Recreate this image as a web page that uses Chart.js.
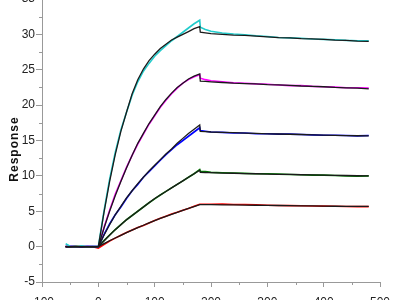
<!DOCTYPE html>
<html>
<head>
<meta charset="utf-8">
<script src="https://cdn.jsdelivr.net/npm/chart.js@4.4.1/dist/chart.umd.min.js"></script>
<style>
html,body{margin:0;padding:0;background:#fff;}
#wrap{position:relative;width:400px;height:300px;overflow:hidden;}
#inner{position:absolute;left:0;top:-10px;width:400px;height:310px;}
</style>
</head>
<body>
<div id="wrap"><div id="inner"><canvas id="c"></canvas></div></div>
<script>
// Time axis (s), shared by all series
const times = [-58,-50,-40,-30,-20,-10,0,
  10,20,30,40,50,60,70,80,90,100,110,120,130,140,150,160,170,180,
  181,190,200,220,240,260,280,300,320,340,360,380,400,420,440,460,480];

// Measured responses (coloured)
const cyanData = [0.4,0.05,-0.05,0.1,0.0,0.05,0,
  5.0,9.5,13.3,16.5,19.0,21.4,23.3,24.8,25.9,26.9,27.7,28.4,29.1,29.7,30.3,30.9,31.5,32.0,
  31.0,30.7,30.45,30.2,30.05,29.95,29.8,29.7,29.55,29.5,29.45,29.35,29.3,29.25,29.15,29.1,29.1];
const magentaData = [0,0.05,-0.05,0.05,0,0.05,0,
  2.7,5.1,7.4,9.3,11.2,12.9,14.5,15.9,17.3,18.5,19.7,20.7,21.6,22.4,23.1,23.6,24.0,24.3,
  23.8,23.6,23.45,23.3,23.15,23.1,23.0,22.95,22.85,22.75,22.75,22.65,22.6,22.55,22.45,22.45,22.4];
const blueData = [0,0.05,0,-0.05,0.05,0,0,
  1.7,3.2,4.5,5.6,6.8,7.9,8.8,9.8,10.6,11.4,12.2,13.0,13.7,14.4,15.0,15.6,16.2,16.8,
  16.4,16.3,16.2,16.15,16.05,16.05,15.95,15.95,15.9,15.9,15.85,15.8,15.75,15.75,15.7,15.65,15.7];
const greenData = [0,0,0.05,0,-0.05,0,0,
  0.85,1.65,2.4,3.1,3.8,4.4,5.0,5.6,6.2,6.75,7.3,7.8,8.3,8.8,9.3,9.8,10.3,10.9,
  10.65,10.6,10.5,10.45,10.4,10.35,10.3,10.3,10.25,10.2,10.15,10.1,10.1,10.05,10.0,9.95,10.0];
const redData = [0,0,0,0.05,0,0,-0.2,
  0.3,0.8,1.2,1.6,2.0,2.35,2.7,3.0,3.35,3.7,4.0,4.3,4.6,4.85,5.15,5.4,5.7,6.0,
  6.0,6.0,5.98,6.0,5.95,5.95,5.9,5.85,5.82,5.8,5.78,5.75,5.72,5.7,5.68,5.65,5.65];

// Fitted curves (black)
const cyanFit = [0,0,0,0,0,0,0,
  4.8,9.2,13.0,16.3,19.0,21.6,23.6,25.1,26.3,27.2,28.0,28.6,29.2,29.6,30.0,30.4,30.8,31.1,
  30.3,30.2,30.1,30.0,29.9,29.85,29.75,29.65,29.55,29.5,29.4,29.35,29.3,29.2,29.15,29.05,29.0];
const magentaFit = [0,0,0,0,0,0,0,
  2.6,5.0,7.2,9.2,11.1,12.9,14.6,16.0,17.4,18.6,19.8,20.8,21.7,22.5,23.1,23.7,24.1,24.4,
  23.4,23.35,23.3,23.2,23.1,23.05,23.0,22.9,22.85,22.8,22.7,22.65,22.6,22.5,22.45,22.4,22.3];
const blueFit = [0,0,0,0,0,0,0,
  1.6,3.1,4.5,5.7,6.9,7.9,8.9,9.8,10.7,11.5,12.3,13.1,13.8,14.6,15.3,16.0,16.6,17.2,
  16.3,16.25,16.2,16.15,16.1,16.05,16.0,15.95,15.92,15.88,15.85,15.8,15.77,15.73,15.7,15.67,15.65];
const greenFit = [0,0,0,0,0,0,0,
  0.8,1.6,2.4,3.1,3.8,4.4,5.0,5.6,6.2,6.8,7.3,7.8,8.3,8.8,9.3,9.8,10.3,10.8,
  10.5,10.48,10.45,10.4,10.37,10.33,10.3,10.25,10.22,10.2,10.16,10.13,10.1,10.07,10.05,10.02,10.0];
const redFit = [0,0,0,0,0,0,0,
  0.42,0.83,1.22,1.6,1.97,2.33,2.68,3.02,3.35,3.67,3.98,4.28,4.57,4.85,5.13,5.4,5.67,5.95,
  5.95,5.94,5.93,5.91,5.89,5.87,5.85,5.83,5.81,5.79,5.77,5.75,5.73,5.71,5.7,5.69,5.68];

const xTicks = [-100,0,100,200,300,400,500];
const yTicks = [-5,0,5,10,15,20,25,30,35];
const yTitle = 'Response';

function pts(vals){ return times.map((t,i)=>({x:t,y:vals[i]})); }
function ds(vals,color,order,w){
  return {data:pts(vals),borderColor:color,borderWidth:w,pointRadius:0,showLine:true,fill:false,tension:0,order:order};
}

const minorTicks = {
  id:'minorTicks',
  afterDraw(chart){
    const ctx=chart.ctx, xs=chart.scales.x, ys=chart.scales.y;
    ctx.save();
    ctx.strokeStyle='#999'; ctx.lineWidth=1;
    for(let v=-50; v<500; v+=100){
      const px=Math.round(xs.getPixelForValue(v))+0.5;
      ctx.beginPath(); ctx.moveTo(px,xs.top); ctx.lineTo(px,xs.top+3); ctx.stroke();
    }
    for(let v=-2.5; v<35; v+=5){
      const py=Math.round(ys.getPixelForValue(v))+0.5;
      ctx.beginPath(); ctx.moveTo(ys.right,py); ctx.lineTo(ys.right-3,py); ctx.stroke();
    }
    ctx.fillStyle='#111';
    ctx.font='bold 12px "Liberation Sans", Arial, sans-serif';
    try{ ctx.letterSpacing='1px'; }catch(e){}
    ctx.textAlign='center'; ctx.textBaseline='middle';
    ctx.translate(15,159); ctx.rotate(-Math.PI/2);
    ctx.fillText(yTitle,0,0);
    ctx.restore();
  }
};

const tickFont = {family:'"Liberation Sans Narrow", "Liberation Sans", Arial, sans-serif', size:12};

new Chart(document.getElementById('c'),{
  type:'scatter',
  data:{datasets:[
    ds(cyanFit,'#1a1a1a',0,1.3), ds(magentaFit,'#1a1a1a',0,1.3), ds(blueFit,'#1a1a1a',0,1.3),
    ds(greenFit,'#1a1a1a',0,1.3), ds(redFit,'#1a1a1a',0,1.3),
    ds(cyanData,'#22cccc',1,1.6), ds(magentaData,'#ff00ff',1,1.6), ds(blueData,'#0000ff',1,1.6),
    ds(greenData,'#008000',1,1.6), ds(redData,'#ff0000',1,1.6)
  ]},
  options:{
    responsive:true, maintainAspectRatio:false, animation:false,
    layout:{padding:{top:9,right:20,left:0,bottom:0}},
    plugins:{legend:{display:false},tooltip:{enabled:false}},
    scales:{
      x:{type:'linear',min:-100,max:500,
        afterBuildTicks(s){ s.ticks = xTicks.map(v=>({value:v})); },
        afterFit(s){ s.height=18; },
        ticks:{color:'#222',font:tickFont,padding:8,maxRotation:0},
        grid:{drawOnChartArea:false,drawTicks:true,tickLength:5,color:'#999'},
        border:{display:true,color:'#999',width:1}
      },
      y:{type:'linear',min:-5,max:35,
        afterBuildTicks(s){ s.ticks = yTicks.map(v=>({value:v})); },
        afterFit(s){ s.width=42; },
        ticks:{color:'#222',font:tickFont,padding:1},
        grid:{drawOnChartArea:false,drawTicks:true,tickLength:6,color:'#999'},
        border:{display:true,color:'#999',width:1}
      }
    }
  },
  plugins:[minorTicks]
});
</script>
</body>
</html>
